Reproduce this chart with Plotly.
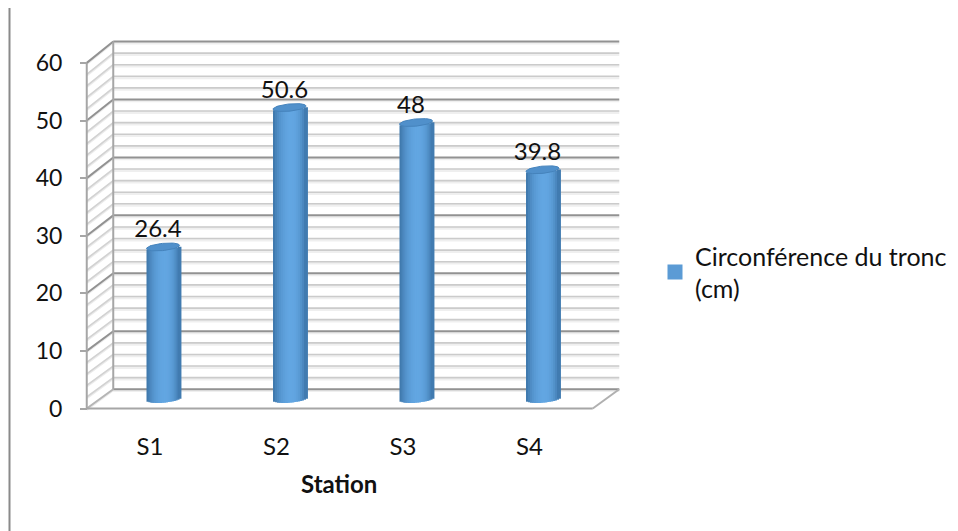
import numpy as np
import plotly.graph_objects as go

stations = ["S1", "S2", "S3", "S4"]
circumference = [26.4, 50.6, 48, 39.8]
value_labels = ["26.4", "50.6", "48", "39.8"]
y_ticks = [0, 10, 20, 30, 40, 50, 60]
series_name = "Circonférence du tronc<br>(cm)"

# the page keeps an 8 px body margin, so the figure starts at (8, 8)
PAGE = 8
W, H = 958 - PAGE, 531 - PAGE
PX_X, PX_Y = 126.5, 5.76
X0_PX, Y0_PX = 150 - PAGE, 408.5 - PAGE
FONT = "Lato"
TXT = 24

DX = 26.5 / PX_X      # depth offset of back wall
DY = 3.35             # depth offset of back wall
X_L, X_R = -0.5, 3.5
BAR_DX = 13 / PX_X
BAR_DY = 9.5 / PX_Y
BAR_W = 33 / PX_X
CAP_H = 3.6 / PX_Y
CAP_TILT = 1.6 / PX_Y


def line(x0, y0, x1, y1, color, width, layer="below", xref="x", yref="y"):
    return dict(type="line", xref=xref, yref=yref, x0=x0, y0=y0, x1=x1, y1=y1,
                line=dict(color=color, width=width), layer=layer)


shapes = []
for v in range(0, 62, 2):
    major = v % 10 == 0
    by = v * 1.006 + DY
    if major:
        col, w = "#929292", 2
    else:
        col, w = "#cbcbcb", 1.6
    # soft halo, matching the blurred look of the reference
    shapes.append(line(X_L + DX, by - 0.22, X_R + DX, by - 0.22, "#efefef", 3.2))
    shapes.append(line(X_L, v - 0.15, X_L + DX, by - 0.15, "#ebebeb", 2.6))
    shapes.append(line(X_L + DX, by, X_R + DX, by, col, w))
    if v == 0:
        shapes.append(line(X_L, v, X_L + DX, by, "#b5b5b5", 2))
    else:
        shapes.append(line(X_L, v, X_L + DX, by, col if major else "#d2d2d2", w))

# walls, floor
shapes.append(line(X_L, 0, X_L, 60, "#a6a6a6", 2))
shapes.append(line(X_L + DX, DY, X_L + DX, 60 * 1.006 + DY, "#a6a6a6", 2))
shapes.append(line(X_L, 0, X_R, 0, "#a6a6a6", 2.2))
shapes.append(line(X_R, 0, X_R + DX, DY, "#b0b0b0", 2))
# page rule at the left
shapes.append(line(1.5 / W, 0, 1.5 / W, 1, "#8a8a8a", 2, "below", "paper", "paper"))

# cylinder shading
N = 17
dark = np.array([0x3c, 0x74, 0xa8])
mid = np.array([0x62, 0xa6, 0xe2])
centre_pos = 0.12
fig = go.Figure()
centres = [i + BAR_DX for i in range(len(stations))]

fig.add_trace(go.Bar(
    x=centres, y=list(circumference), base=BAR_DY,
    width=BAR_W * 0.7, name=series_name, showlegend=True,
    marker=dict(color="#5b9bd5", line=dict(width=3, color="#5b9bd5")), hoverinfo="skip",
))
edges = np.linspace(-1, 1, N + 1)
for k in range(N):
    t = (edges[k] + edges[k + 1]) / 2
    s = abs(t - centre_pos) / (1 + centre_pos if t < centre_pos else 1 - centre_pos)
    c = mid + (dark - mid) * s ** 2.2
    arc = CAP_H * np.sqrt(max(0, 1 - t * t))
    tilt = CAP_TILT * t
    bases = [BAR_DY - arc + tilt] * len(centres)
    tops = [v - arc + tilt - b + BAR_DY for v, b in zip(circumference, bases)]
    fig.add_trace(go.Bar(
        x=centres, y=tops, base=bases,
        offset=edges[k] * BAR_W / 2, width=(edges[k + 1] - edges[k]) * BAR_W,
        marker=dict(color=f"rgb({c[0]:.0f},{c[1]:.0f},{c[2]:.0f})", line=dict(width=0)),
        showlegend=False, hoverinfo="skip",
    ))

# top caps
th = np.linspace(0, 2 * np.pi, 60)
for cx, v in zip(centres, circumference):
    fig.add_trace(go.Scatter(
        x=cx + BAR_W / 2 * np.cos(th),
        y=v + BAR_DY + CAP_H * np.sin(th) + CAP_TILT * np.cos(th),
        mode="lines", fill="toself", fillcolor="#5090cb",
        line=dict(color="#4583bc", width=1), showlegend=False, hoverinfo="skip",
    ))

# data labels
fig.add_trace(go.Scatter(
    x=[c - 5 / PX_X for c in centres],
    y=[v + BAR_DY + 0.6 for v in circumference],
    mode="text", text=value_labels, textposition="top center",
    textfont=dict(family=FONT, size=TXT, color="#111111"),
    showlegend=False, hoverinfo="skip",
))

fig.update_layout(
    width=W, height=H, autosize=False,
    margin=dict(l=0, r=0, t=0, b=0),
    paper_bgcolor="white", plot_bgcolor="white",
    barmode="overlay", shapes=shapes,
    font=dict(family=FONT, size=TXT, color="#111111"),
    xaxis=dict(
        range=[-X0_PX / PX_X, (W - X0_PX) / PX_X], domain=[0, 1],
        tickmode="array", tickvals=list(range(4)), ticktext=stations,
        showgrid=False, zeroline=False, showline=False, ticks="",
        anchor="free", position=(H - Y0_PX) / H, side="bottom",
        ticklabelstandoff=21, tickfont=dict(family=FONT, size=TXT, color="#111111"),
    ),
    yaxis=dict(
        range=[-(H - Y0_PX) / PX_Y, Y0_PX / PX_Y], domain=[0, 1],
        tickmode="array", tickvals=y_ticks,
        showgrid=False, zeroline=False, showline=False,
        ticks="outside", ticklen=7, tickwidth=2, tickcolor="#a6a6a6",
        anchor="free", position=(87 - PAGE) / W, side="left",
        ticklabelstandoff=13, tickfont=dict(family=FONT, size=23, color="#111111"),
    ),
    legend=dict(
        x=(655 - PAGE) / W, y=1 - (233 - PAGE) / H, xanchor="left", yanchor="top",
        bgcolor="rgba(0,0,0,0)", font=dict(family=FONT, size=25, color="#111111"),
        itemwidth=30,
    ),
    annotations=[dict(
        x=(339 - PAGE) / W, y=1 - (483 - PAGE) / H, xref="paper", yref="paper",
        text="<b>Station</b>",
        showarrow=False, font=dict(family=FONT, size=TXT, color="#111111"),
        xanchor="center", yanchor="middle",
    )],
)

fig.write_html("out.html", config=dict(displayModeBar=False))
